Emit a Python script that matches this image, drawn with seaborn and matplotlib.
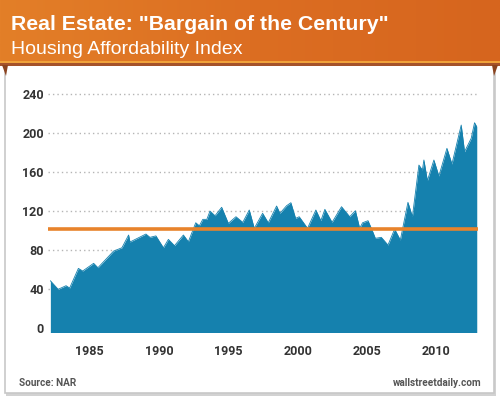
import matplotlib
matplotlib.use("Agg")
import matplotlib.pyplot as plt
import numpy as np
import pandas as pd
import seaborn as sns
from matplotlib.patches import Rectangle, Polygon
from matplotlib.colors import LinearSegmentedColormap

# ---- data ----
years = [1982.17, 1982.73, 1983.30, 1983.56, 1984.19,
         1984.50, 1985.29, 1985.60, 1986.73, 1987.33,
         1987.81, 1987.91, 1989.06, 1989.35, 1989.78,
         1990.32, 1990.68, 1991.12, 1991.76, 1992.12,
         1992.65, 1992.91, 1993.16, 1993.45, 1993.68,
         1994.04, 1994.52, 1995.00, 1995.55, 1996.04,
         1996.51, 1996.87, 1997.47, 1997.88, 1998.48,
         1998.72, 1999.20, 1999.51, 1999.85, 2000.11,
         2000.71, 2001.31, 2001.67, 2001.96, 2002.48,
         2003.16, 2003.75, 2004.16, 2004.47, 2004.68,
         2005.07, 2005.31, 2005.60, 2006.03, 2006.51,
         2006.99, 2007.40, 2007.95, 2008.27, 2008.74,
         2008.99, 2009.10, 2009.35, 2009.82, 2010.18,
         2010.76, 2011.12, 2011.79, 2012.03, 2012.51,
         2012.75, 2012.91]
index_values = [48.5, 39.7, 43.4, 41.0, 61.2,
                58.5, 66.4, 61.9, 79.0, 82.4,
                95.5, 88.3, 96.5, 93.1, 94.6,
                82.4, 91.0, 84.5, 95.5, 88.6,
                108.1, 105.0, 111.6, 111.6, 120.1,
                115.3, 124.0, 107.5, 114.3, 108.5,
                121.2, 102.4, 117.8, 108.1, 125.3,
                117.8, 125.6, 128.7, 112.6, 114.3,
                102.4, 121.2, 110.2, 121.9, 108.5,
                124.6, 114.3, 120.5, 102.4, 108.1,
                110.2, 102.4, 92.1, 93.1, 85.2,
                101.6, 90.3, 129.1, 114.3, 167.4,
                162.3, 172.6, 151.3, 172.6, 156.1,
                184.6, 168.4, 208.5, 181.1, 194.9,
                210.9, 206.8]
reference_level = 101.5
y_ticks = [0, 40, 80, 120, 160, 200, 240]
x_ticks = [1985, 1990, 1995, 2000, 2005, 2010]
title = 'Real Estate: "Bargain of the Century"'
subtitle = "Housing Affordability Index"
source = "Source: NAR"
credit = "wallstreetdaily.com"

df = pd.DataFrame({"year": years, "index": index_values})

BLUE = "#1581AE"
ORANGE = "#E8832B"
TICK_FONT = ["Liberation Sans Narrow", "Roboto", "DejaVu Sans"]

sns.set_theme(style="white")
plt.rcParams["font.family"] = ["Liberation Sans", "DejaVu Sans"]

fig = plt.figure(figsize=(5, 4), dpi=100, facecolor="white")

# ---- background decoration (pixel coordinates) ----
bg = fig.add_axes([0, 0, 1, 1], zorder=-5)
bg.set_xlim(0, 500)
bg.set_ylim(400, 0)
bg.axis("off")
bg.add_patch(Rectangle((6, 66), 490, 330, facecolor="#d2d2d2", edgecolor="none"))
bg.add_patch(Rectangle((5, 62), 489, 331, facecolor="white", edgecolor="#c8c8c8", lw=1.2))
grad = np.linspace(0, 1, 256)[None, :]
hdr_cmap = LinearSegmentedColormap.from_list("hdr", ["#E37F28", "#DC6E22", "#D6651E"])
bg.imshow(grad, extent=[0, 500, 61, 0], aspect="auto", cmap=hdr_cmap, zorder=1)
bg.add_patch(Rectangle((0, 60.5), 500, 2.5, facecolor="#F0A23A", edgecolor="none", zorder=2))
bg.add_patch(Rectangle((0, 63), 500, 3, facecolor="#A5522A", edgecolor="none", zorder=2))
bg.add_patch(Polygon([(2, 65), (8, 65), (6, 76)], closed=True, facecolor="#8B4420", edgecolor="none", zorder=2))
bg.add_patch(Polygon([(492, 65), (498, 65), (494, 76)], closed=True, facecolor="#8B4420", edgecolor="none", zorder=2))

fig.text(11 / 500, 1 - 29.5 / 400, title, color="white", fontsize=15.3, fontweight="bold",
         ha="left", va="baseline")
fig.text(11 / 500, 1 - 53.5 / 400, subtitle, color="white", fontsize=14,
         ha="left", va="baseline")
fig.text(19 / 500, 1 - 386.5 / 400, source, color="#555555", fontsize=7.2, fontweight="bold",
         ha="left", va="baseline", family=TICK_FONT)
fig.text(481 / 500, 1 - 386.5 / 400, credit, color="#555555", fontsize=7.2, fontweight="bold",
         ha="right", va="baseline", family=TICK_FONT)

# ---- chart ----
ax = fig.add_axes([48 / 500, 1 - 332.3 / 400, 430 / 500, 247.6 / 400])
ax.set_facecolor("none")
ax.fill_between(df["year"], df["index"], -10, color=BLUE, lw=0, zorder=2)
sns.lineplot(data=df, x="year", y="index", color=BLUE, lw=0.6, ax=ax, zorder=3)
ax.axhline(reference_level, color=ORANGE, lw=2.6, zorder=4)

ax.set_xlim(1982.0, 2013.0)
ax.set_ylim(-4.5, 250)
ax.set_yticks(y_ticks)
ax.set_xticks(x_ticks)
for y in y_ticks[1:]:
    ax.axhline(y, color="#b5b5b5", lw=1.0, ls=(0, (1, 2.2)), zorder=1)
ax.set_xlabel("")
ax.set_ylabel("")
for s in ax.spines.values():
    s.set_visible(False)
ax.tick_params(axis="both", length=0, labelsize=9, labelcolor="#333333")
ax.tick_params(axis="y", pad=3)
ax.tick_params(axis="x", pad=9)
for lab in ax.get_xticklabels() + ax.get_yticklabels():
    lab.set_family(TICK_FONT)
    lab.set_fontweight("bold")

fig.savefig("out.png", dpi=100, facecolor="white")
